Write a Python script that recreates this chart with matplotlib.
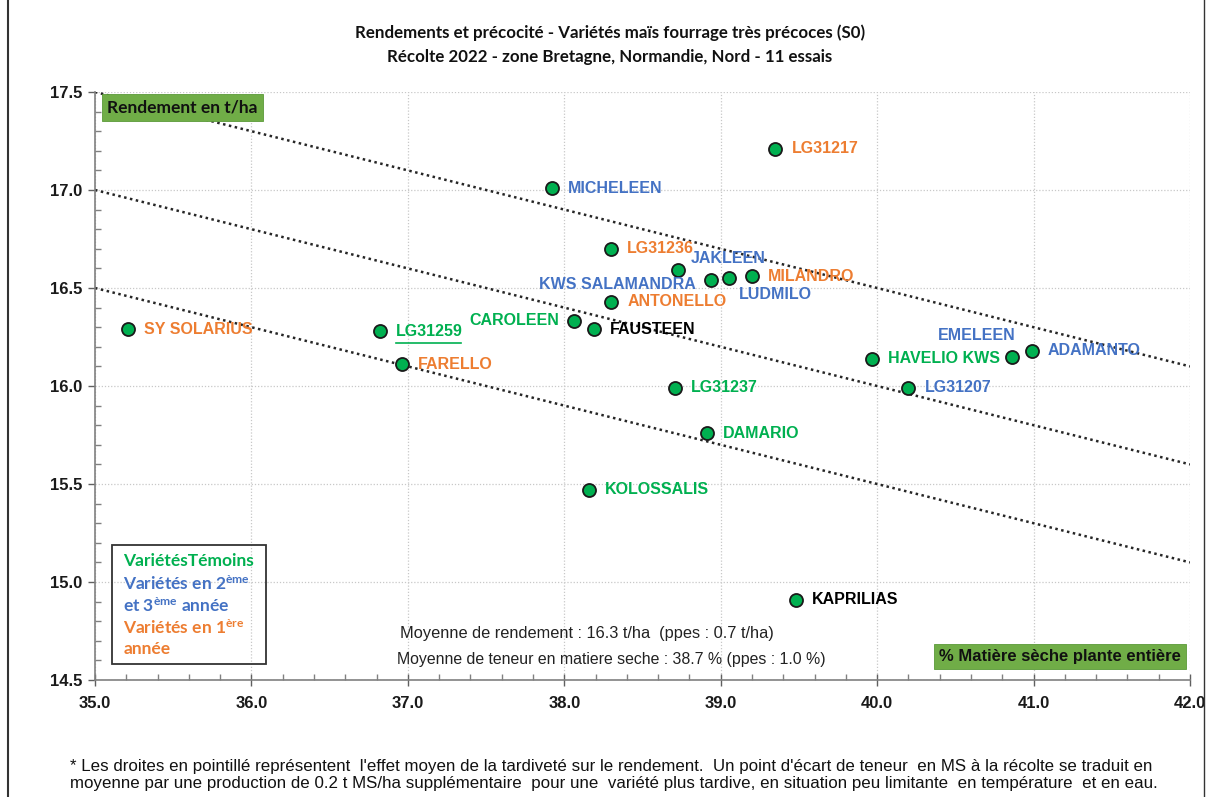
import matplotlib.pyplot as plt
import numpy as np
from matplotlib.patches import Rectangle
from matplotlib.lines import Line2D

plt.rcParams['font.family'] = ['Liberation Sans', 'DejaVu Sans']
plt.rcParams['mathtext.default'] = 'regular'

# --- data ---
varietes = ['SY SOLARIUS', 'LG31259', 'FARELLO', 'MICHELEEN', 'LG31217', 'LG31236',
            'JAKLEEN', 'KWS SALAMANDRA', 'LUDMILO', 'MILANDRO', 'ANTONELLO', 'CAROLEEN',
            'FAUSTEEN', 'LG31237', 'DAMARIO', 'KOLOSSALIS', 'KAPRILIAS', 'HAVELIO KWS',
            'EMELEEN', 'ADAMANTO', 'LG31207']
ms = [35.21, 36.82, 36.96, 37.92, 39.35, 38.30,
      38.73, 38.94, 39.05, 39.20, 38.30, 38.06,
      38.19, 38.71, 38.91, 38.16, 39.48, 39.97,
      40.86, 40.99, 40.20]
rdt = [16.29, 16.28, 16.11, 17.01, 17.21, 16.70,
       16.59, 16.54, 16.55, 16.56, 16.43, 16.33,
       16.29, 15.99, 15.76, 15.47, 14.91, 16.14,
       16.15, 16.18, 15.99]
groupe = ['o', 't', 'o', 'b', 'o', 'o',
          'b', 'b', 'b', 'o', 'o', 't',
          'k', 't', 't', 't', 'k', 't',
          'b', 'b', 'b']

# reference dotted lines (intercept at 35.0, slope -0.2 t/ha per point)
droites = [17.5, 17.0, 16.5]
pente = -0.2

couleurs = {'t': '#00B050', 'b': '#4472C4', 'o': '#ED7D31', 'k': '#000000'}

# label offsets in pixels (dx, dy, ha)
offsets = {
    'JAKLEEN': (12, 12, 'left'),
    'KWS SALAMANDRA': (-16, -4, 'right'),
    'LUDMILO': (10, -16, 'left'),
    'EMELEEN': (4, 21, 'right'),
    'CAROLEEN': (-14, 1, 'right'),
}

fig = plt.figure(figsize=(12.08, 7.97), dpi=100)
ax = fig.add_axes([95/1208, 1-680/797, 1095/1208, 588/797])

xx = np.array([35.0, 42.0])
for b in droites:
    ax.plot(xx, b + pente*(xx - 35.0), ls=(0, (1, 1.4)), color='#262626', lw=1.8, zorder=2)

ax.scatter(ms, rdt, s=88, color='#00B050', edgecolor='#1a1a1a', linewidth=1.3, zorder=4)

for nom, x, y, g in zip(varietes, ms, rdt, groupe):
    dx, dy, ha = offsets.get(nom, (16, 0, 'left'))
    ax.annotate(nom, (x, y), xytext=(dx, dy), textcoords='offset pixels',
                ha=ha, va='center', color=couleurs[g], fontsize=11.5,
                fontweight='bold', zorder=5)
    if nom == 'LG31259':
        ax.plot([36.925, 37.34], [16.22, 16.22], color=couleurs[g], lw=1.2, zorder=5)

ax.set_xlim(35.0, 42.0)
ax.set_ylim(14.5, 17.5)
ax.set_xticks(np.arange(35.0, 42.01, 1.0))
ax.set_xticks(np.arange(35.0, 42.01, 0.2), minor=True)
ax.set_yticks(np.arange(14.5, 17.51, 0.5))
ax.set_yticks(np.arange(14.5, 17.51, 0.1), minor=True)
ax.xaxis.set_major_formatter(plt.FormatStrFormatter('%.1f'))
ax.yaxis.set_major_formatter(plt.FormatStrFormatter('%.1f'))
for lab in ax.get_xticklabels() + ax.get_yticklabels():
    lab.set_fontweight('bold')
    lab.set_fontsize(12)
    lab.set_color('#1a1a1a')
ax.tick_params(axis='x', which='major', direction='inout', length=9, width=1, color='#606060', pad=7)
ax.tick_params(axis='x', which='minor', direction='in', length=4, width=1, color='#808080')
ax.tick_params(axis='y', which='major', direction='out', length=5, width=1, color='#606060', pad=4)
ax.tick_params(axis='y', which='minor', direction='in', length=4, width=1, color='#808080')
ax.grid(True, which='major', ls=(0, (1, 1.5)), color='#c8c8c8', lw=0.9)
ax.spines['top'].set_visible(False)
ax.spines['right'].set_visible(False)
ax.spines['left'].set_color('#808080')
ax.spines['bottom'].set_color('#808080')
ax.spines['left'].set_linewidth(1.2)
ax.spines['bottom'].set_linewidth(1.2)

# green axis-name boxes
ax.text(35.56, 17.42, 'Rendement en t/ha', ha='center', va='center', fontsize=12.5,
        family=['Lato', 'DejaVu Sans'], fontweight='bold', color='#111111', zorder=6,
        bbox=dict(boxstyle='square,pad=0.3', fc='#70AD47', ec='#5a9a38', lw=0.6))
ax.text(41.94, 14.62, '% Matière sèche plante entière', ha='right', va='center', fontsize=12,
        fontweight='bold', color='#111111', zorder=6,
        bbox=dict(boxstyle='square,pad=0.3', fc='#70AD47', ec='#5a9a38', lw=0.6))

# legend box
ax.add_patch(Rectangle((35.11, 14.58), 0.98, 0.61, fill=False, ec='#333333', lw=1.3, zorder=6))
leg = [('VariétésTémoins', '#00B050'),
       ('Variétés en 2$^{ème}$', '#4472C4'),
       ('et 3$^{ème}$ année', '#4472C4'),
       ('Variétés en 1$^{ère}$', '#ED7D31'),
       ('année', '#ED7D31')]
for i, (txt, c) in enumerate(leg):
    ax.text(35.18, 15.105 - i*0.112, txt, ha='left', va='center', fontsize=12.5,
            family=['Lato', 'DejaVu Sans'], fontweight='bold', color=c, zorder=7)

ax.text(36.95, 14.735, 'Moyenne de rendement : 16.3 t/ha  (ppes : 0.7 t/ha)',
        ha='left', va='center', fontsize=11.8, color='#222222')
ax.text(36.93, 14.603, 'Moyenne de teneur en matiere seche : 38.7 % (ppes : 1.0 %)',
        ha='left', va='center', fontsize=11.4, color='#222222')

fig.text(610/1208, 1-33/797, 'Rendements et précocité - Variétés maïs fourrage très précoces (S0)',
         ha='center', va='center', fontsize=12.2, fontweight='bold',
         family=['Lato', 'DejaVu Sans'], color='#111111')
fig.text(610/1208, 1-57/797, 'Récolte 2022 - zone Bretagne, Normandie, Nord - 11 essais',
         ha='center', va='center', fontsize=12.2, fontweight='bold',
         family=['Lato', 'DejaVu Sans'], color='#111111')

note = ("* Les droites en pointillé représentent  l'effet moyen de la tardiveté sur le rendement.  "
        "Un point d'écart de teneur  en MS à la récolte se traduit en\n"
        "moyenne par une production de 0.2 t MS/ha supplémentaire  pour une  variété plus tardive, "
        "en situation peu limitante  en température  et en eau.")
fig.text(70/1208, 1-775/797, note, ha='left', va='center', fontsize=12.2,
         color='#111111', linespacing=1.15)

# outer frame of the original chart
fig.add_artist(Line2D([8/1208, 8/1208], [0, 1], transform=fig.transFigure, color='#333333', lw=1.5))
fig.add_artist(Line2D([1204/1208, 1204/1208], [0, 1], transform=fig.transFigure, color='#333333', lw=1.0))

fig.savefig('out.png', dpi=100)
